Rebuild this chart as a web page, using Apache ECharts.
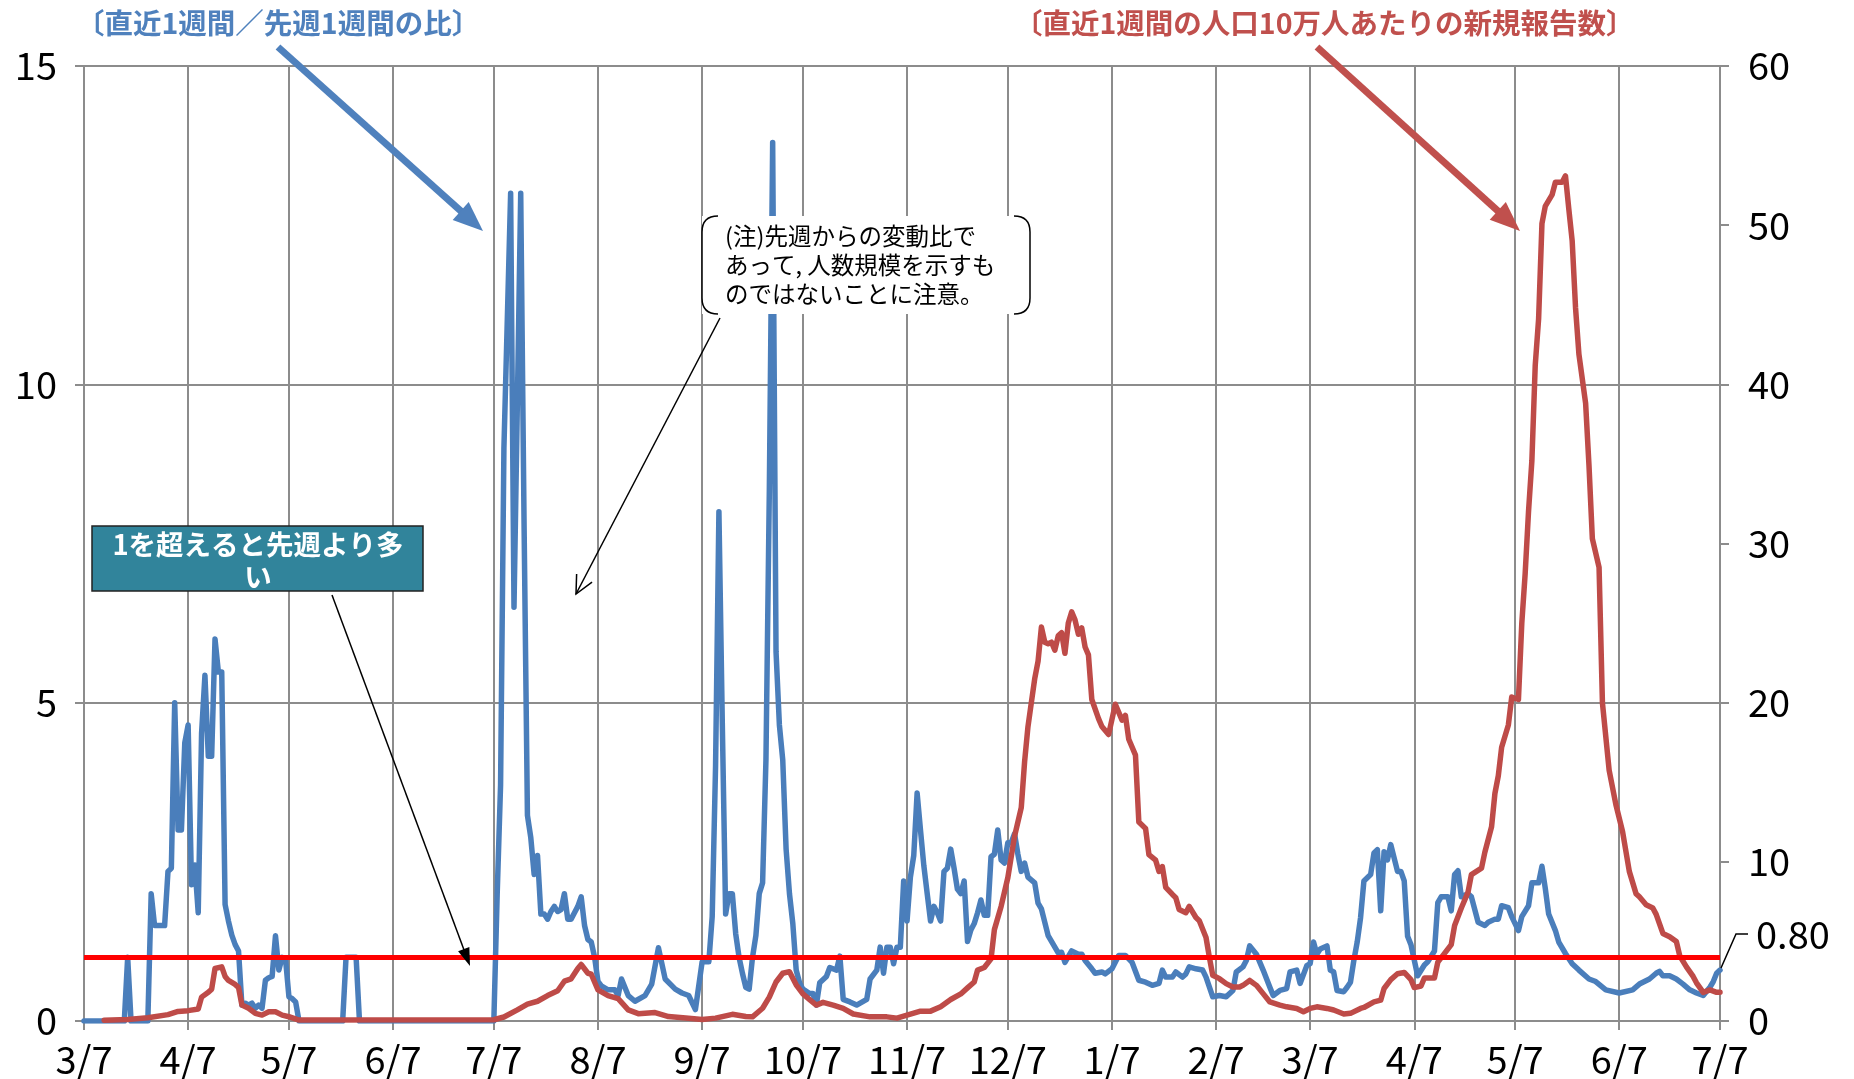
<!DOCTYPE html>
<html><head><meta charset="utf-8">
<script src="https://cdn.jsdelivr.net/npm/echarts@6/dist/echarts.min.js"></script>
<style>html,body{margin:0;padding:0;background:#fff}#c{width:1854px;height:1079px}</style>
</head><body><div id="c"></div>
<script>
// ---- data ----
// 直近1週間／先週1週間の比 (left axis)
const ratio2020 = [
['3/7',0],['3/19',0],['3/20',1.0],['3/21',0],['3/26',0],['3/27',2.0],['3/28',1.5],['3/31',1.5],
['4/1',2.35],['4/2',2.4],['4/3',5.0],['4/4',3.0],['4/5',3.0],['4/6',4.37],['4/7',4.65],['4/8',2.14],
['4/9',2.45],['4/10',1.7],['4/11',4.52],['4/12',5.43],['4/13',4.16],['4/14',4.16],['4/15',6.0],['4/16',5.48],
['4/17',5.48],['4/18',1.83],['4/19',1.57],['4/20',1.35],['4/21',1.2],['4/22',1.1],['4/23',0.25],['4/24',0.28],
['4/25',0.25],['4/26',0.28],['4/27',0.2],['4/28',0.25],['4/29',0.2],['4/30',0.64],['5/1',0.68],['5/2',0.7],
['5/3',1.34],['5/4',0.8],['5/5',1.0],['5/6',0.97],['5/7',0.38],['5/8',0.35],['5/9',0.3],['5/10',0],
['5/23',0],['5/24',1.0],['5/27',1.0],['5/28',0],['7/7',0],
['7/8',2.0],['7/9',3.7],['7/10',9.0],['7/11',11.0],['7/12',13.0],['7/13',6.5],['7/14',9.7],['7/15',13.0],
['7/16',7.8],['7/17',3.23],['7/18',2.88],['7/19',2.3],['7/20',2.6],['7/21',1.68],['7/22',1.68],['7/23',1.6],
['7/24',1.72],['7/25',1.8],['7/26',1.72],['7/27',1.75],['7/28',2.0],['7/29',1.6],['7/30',1.6],['7/31',1.7],
['8/1',1.8],['8/2',1.95],['8/3',1.5],['8/4',1.28],['8/5',1.24],['8/6',1.0],['8/7',0.62],['8/8',0.55],
['8/10',0.49],['8/12',0.49],['8/13',0.4],['8/14',0.66],['8/16',0.4],['8/18',0.31],['8/21',0.4],['8/23',0.58],
['8/25',1.15],['8/27',0.66],['8/30',0.5],['9/1',0.44],['9/3',0.4],['9/5',0.18],['9/7',0.93],['9/9',0.93],
['9/10',1.64],['9/11',4.0],['9/12',8.0],['9/13',4.7],['9/14',1.68],['9/15',2.0],['9/16',2.0],['9/17',1.37],
['9/18',1.0],['9/19',0.75],['9/20',0.53],['9/21',0.5],['9/22',1.0],['9/23',1.34],['9/24',2.0],['9/25',2.17],
['9/26',4.1],['9/27',8.3],['9/28',13.8],['9/29',5.8],['9/30',4.65],['10/1',4.1],['10/2',2.7],['10/3',2.0],
['10/4',1.53],['10/5',0.8],['10/6',0.6],['10/7',0.5],['10/9',0.43],['10/10',0.43],['10/11',0.25],['10/12',0.6],
['10/14',0.7],['10/15',0.84],['10/17',0.8],['10/18',1.02],['10/19',0.34],['10/21',0.3],['10/23',0.25],['10/26',0.34],
['10/27',0.66],['10/29',0.8],['10/30',1.16],['10/31',0.75],['11/1',1.16],['11/2',1.16],['11/3',0.9],['11/4',1.16],
['11/5',1.16],['11/6',2.2],['11/7',1.57],['11/8',2.26],['11/9',2.6],['11/10',3.58],['11/11',3.0],['11/12',2.44],
['11/13',2.0],['11/14',1.57],['11/15',1.8],['11/16',1.7],['11/17',1.57],['11/18',2.35],['11/19',2.4],['11/20',2.7],
['11/21',2.4],['11/22',2.07],['11/23',2.0],['11/24',2.2],['11/25',1.25],['11/26',1.43],['11/27',1.53],['11/28',1.7],
['11/29',1.9],['11/30',1.66],['12/1',1.66],['12/2',2.58],['12/3',2.62],['12/4',3.0],['12/5',2.53],['12/6',2.48],
['12/7',2.8],['12/8',2.8],['12/9',2.94],['12/10',2.62],['12/11',2.35],['12/12',2.48],['12/13',2.26],['12/15',2.17],
['12/16',1.85],['12/17',1.76],['12/19',1.34],['12/20',1.25],['12/22',1.07],['12/23',1.08],['12/24',0.92],['12/26',1.1],
['12/28',1.05],['12/29',1.05],['12/30',0.95]
];
const ratio2021 = [
['1/1',0.82],['1/2',0.75],['1/4',0.77],['1/5',0.74],['1/7',0.82],['1/9',1.03],['1/11',1.03],['1/13',0.92],
['1/15',0.64],['1/17',0.61],['1/19',0.56],['1/21',0.59],['1/22',0.8],['1/23',0.69],['1/25',0.69],['1/26',0.77],
['1/28',0.69],['1/29',0.74],['1/30',0.85],['2/1',0.82],['2/3',0.8],['2/4',0.69],['2/6',0.38],['2/8',0.4],
['2/10',0.38],['2/12',0.48],['2/13',0.77],['2/15',0.85],['2/16',0.95],['2/17',1.18],['2/19',1.05],['2/21',0.8],
['2/23',0.53],['2/24',0.4],['2/26',0.48],['2/28',0.51],['3/1',0.77],['3/3',0.8],['3/4',0.59],['3/6',0.87],
['3/7',0.9],['3/8',1.24],['3/9',1.05],['3/10',1.13],['3/12',1.18],['3/13',0.8],['3/14',0.77],['3/15',0.48],
['3/17',0.46],['3/18',0.53],['3/19',0.61],['3/20',0.95],['3/21',1.24],['3/22',1.62],['3/23',2.2],['3/24',2.25],
['3/25',2.3],['3/26',2.64],['3/27',2.69],['3/28',1.73],['3/29',2.66],['3/30',2.53],['3/31',2.77],['4/2',2.35],
['4/3',2.35],['4/4',2.2],['4/5',1.33],['4/6',1.2],['4/8',0.71],['4/10',0.88],['4/11',0.93],['4/13',1.1],
['4/14',1.86],['4/15',1.95],['4/17',1.95],['4/18',1.73],['4/19',2.3],['4/20',2.36],['4/21',1.95],['4/23',2.0],
['4/24',1.95],['4/26',1.55],['4/28',1.5],['4/29',1.55],['5/1',1.6],['5/2',1.6],['5/3',1.81],['5/5',1.78],
['5/6',1.64],['5/8',1.42],['5/9',1.64],['5/11',1.81],['5/12',2.17],['5/14',2.17],['5/15',2.43],['5/16',2.08],
['5/17',1.68],['5/19',1.42],['5/20',1.24],['5/22',1.06],['5/24',0.9],['5/26',0.8],['5/29',0.66],['5/31',0.62],
['6/3',0.49],['6/7',0.44],['6/11',0.49],['6/13',0.58],['6/16',0.66],['6/18',0.75],['6/19',0.78],['6/20',0.71],
['6/22',0.71],['6/24',0.66],['6/26',0.58],['6/28',0.49],['6/30',0.44],['7/2',0.4],['7/4',0.53],['7/5',0.62],
['7/6',0.75],['7/7',0.8]
];
// 直近1週間の人口10万人あたりの新規報告数 (right axis)
const rate2020 = [
['3/13',0.05],['3/20',0.1],['3/26',0.2],['4/1',0.4],['4/4',0.6],['4/7',0.65],['4/10',0.75],['4/11',1.5],
['4/13',1.8],['4/14',2.0],['4/15',3.3],['4/17',3.4],['4/18',2.8],['4/19',2.55],['4/21',2.3],['4/22',2.1],
['4/23',1.0],['4/25',0.8],['4/27',0.48],['4/29',0.37],['5/1',0.58],['5/3',0.58],['5/5',0.37],['5/7',0.27],
['5/10',0.06],['7/7',0.08],['7/10',0.25],['7/14',0.7],['7/17',1.06],['7/20',1.24],['7/23',1.6],['7/26',1.9],
['7/28',2.5],['7/30',2.65],['8/1',3.3],['8/2',3.55],['8/4',3.0],['8/5',2.94],['8/7',1.95],['8/10',1.6],
['8/13',1.4],['8/16',0.7],['8/19',0.46],['8/24',0.53],['8/28',0.28],['9/3',0.18],['9/7',0.1],['9/11',0.18],
['9/16',0.42],['9/20',0.28],['9/22',0.26],['9/25',0.8],['9/27',1.5],['9/29',2.45],['10/1',3.0],['10/3',3.1],
['10/5',2.27],['10/7',1.7],['10/9',1.35],['10/11',1.0],['10/13',1.17],['10/16',1.0],['10/19',0.8],['10/22',0.44],
['10/27',0.26],['11/1',0.26],['11/4',0.18],['11/7',0.37],['11/11',0.62],['11/14',0.62],['11/17',0.9],['11/20',1.35],
['11/23',1.7],['11/25',2.08],['11/27',2.45],['11/28',3.2],['11/30',3.36],['12/2',3.9],['12/3',5.74],['12/5',7.2],
['12/7',9.0],['12/9',11.6],['12/11',13.4],['12/12',16.3],['12/13',18.5],['12/14',20.0],['12/15',21.5],['12/16',22.6],
['12/17',24.75],['12/18',23.8],['12/19',23.7],['12/20',23.8],['12/21',23.3],['12/22',24.2],['12/23',24.4],['12/24',23.1],
['12/25',25.0],['12/26',25.7],['12/27',25.2],['12/28',24.3],['12/29',24.7],['12/30',23.5],['12/31',23.0]
];
const rate2021 = [
['1/1',20.2],['1/3',19.0],['1/4',18.5],['1/6',18.0],['1/8',19.9],['1/10',18.9],['1/11',19.2],['1/12',17.7],
['1/14',16.7],['1/15',12.5],['1/17',12.1],['1/18',10.45],['1/20',10.1],['1/21',9.4],['1/22',9.7],['1/23',8.4],
['1/25',7.95],['1/26',7.75],['1/27',7.0],['1/29',6.8],['1/30',7.2],['2/1',6.5],['2/2',6.3],['2/4',5.25],
['2/5',4.0],['2/6',2.87],['2/8',2.66],['2/10',2.35],['2/12',2.14],['2/14',2.14],['2/15',2.24],['2/17',2.55],
['2/19',2.24],['2/21',1.72],['2/23',1.2],['2/26',1.0],['2/28',0.89],['3/3',0.79],['3/5',0.58],['3/7',0.79],
['3/9',0.89],['3/12',0.79],['3/14',0.69],['3/17',0.44],['3/19',0.48],['3/22',0.79],['3/23',0.85],['3/26',1.2],
['3/28',1.31],['3/29',2.04],['3/31',2.6],['4/2',2.97],['4/4',3.05],['4/6',2.6],['4/7',2.1],['4/9',2.2],
['4/10',2.7],['4/13',2.7],['4/14',3.7],['4/16',4.25],['4/18',4.8],['4/19',6.0],['4/21',7.1],['4/23',8.1],
['4/24',9.2],['4/27',9.6],['4/28',10.6],['4/30',12.2],['5/1',14.3],['5/2',15.4],['5/3',17.2],['5/5',18.6],
['5/6',20.35],['5/8',20.2],['5/9',25.0],['5/10',28.1],['5/11',32.0],['5/12',35.2],['5/13',41.2],['5/14',44.1],
['5/15',50.1],['5/16',51.2],['5/18',51.9],['5/19',52.7],['5/21',52.7],['5/22',53.1],['5/23',51.0],['5/24',49.0],
['5/25',44.8],['5/26',41.9],['5/28',38.8],['5/29',34.9],['5/30',30.3],['6/1',28.5],['6/2',20.0],['6/4',15.75],
['6/6',13.6],['6/8',11.9],['6/10',9.4],['6/12',8.0],['6/13',7.8],['6/15',7.3],['6/17',7.1],['6/18',6.7],
['6/20',5.5],['6/22',5.3],['6/24',5.0],['6/25',4.1],['6/27',3.4],['6/29',2.8],['6/30',2.4],['7/2',1.8],
['7/4',1.95],['7/6',1.8],['7/7',1.8]
];
const threshold = 1;
const yLeftTicks = {min:0, max:15, interval:5};
const yRightTicks = {min:0, max:60, interval:10};
const lastRatioLabel = '0.80';

// ---- helpers ----
const T0 = Date.UTC(2020,2,7), T1 = Date.UTC(2021,6,7), DAY = 86400000;
function idx(year, md){ const [m,d] = md.split('/').map(Number); return Math.round((Date.UTC(year,m-1,d)-T0)/DAY); }
const categories = [];
for (let t=T0; t<=T1; t+=DAY){ const dt=new Date(t); categories.push((dt.getUTCMonth()+1)+'/'+dt.getUTCDate()); }
const toData = (y, arr) => arr.map(([md,v]) => [idx(y,md), v]);
const ratioData = toData(2020, ratio2020).concat(toData(2021, ratio2021));
const rateData = toData(2020, rate2020).concat(toData(2021, rate2021));
const isMonthTick = (i, v) => v.split('/')[1] === '7';

const FONT = '"Noto Sans CJK JP", "Noto Sans", sans-serif';
const GRID = '#8c8c8c';
const BLUE = '#4A7EBB', RED = '#BE4B48';
const AXFS = 38;

const chart = echarts.init(document.getElementById('c'), null, {renderer:'canvas'});
chart.setOption({
  animation:false,
  backgroundColor:'#fff',
  grid:{left:84, right:134, top:66, bottom:52, containLabel:false},
  xAxis:{
    type:'category', data:categories, boundaryGap:false,
    axisLine:{lineStyle:{color:GRID, width:2}},
    axisTick:{show:true, interval:isMonthTick, length:9, lineStyle:{color:GRID, width:2}},
    splitLine:{show:true, interval:isMonthTick, lineStyle:{color:GRID, width:2}},
    axisLabel:{interval:isMonthTick, color:'#000', fontSize:AXFS, fontFamily:FONT, margin:20, showMinLabel:true, showMaxLabel:true}
  },
  yAxis:[
    {type:'value', position:'left', min:yLeftTicks.min, max:yLeftTicks.max, interval:yLeftTicks.interval,
     axisLine:{show:true, lineStyle:{color:GRID, width:2}},
     axisTick:{show:true, length:9, lineStyle:{color:GRID, width:2}},
     splitLine:{show:true, lineStyle:{color:GRID, width:2}},
     axisLabel:{color:'#000', fontSize:AXFS, fontFamily:FONT, margin:27}},
    {type:'value', position:'right', min:yRightTicks.min, max:yRightTicks.max, interval:yRightTicks.interval,
     axisLine:{show:true, lineStyle:{color:GRID, width:2}},
     axisTick:{show:true, length:9, lineStyle:{color:GRID, width:2}},
     splitLine:{show:false},
     axisLabel:{color:'#000', fontSize:AXFS, fontFamily:FONT, margin:28}}
  ],
  series:[
    {type:'line', name:'ratio', xAxisIndex:0, yAxisIndex:0, data:ratioData, symbol:'none', z:3,
     lineStyle:{color:BLUE, width:5.5, join:'round', cap:'round'},
     markLine:{silent:true, symbol:'none', label:{show:false}, data:[{yAxis:threshold}],
               lineStyle:{color:'#FF0000', width:5, type:'solid'}}},
    {type:'line', name:'rate', xAxisIndex:0, yAxisIndex:1, data:rateData, symbol:'none', z:4,
     lineStyle:{color:RED, width:5.5, join:'round', cap:'round'}}
  ]
});

// ---- annotations ----
function arrow(x1,y1,x2,y2,color,w,hl,hw){
  const a=Math.atan2(y2-y1,x2-x1), bx=x2-hl*Math.cos(a), by=y2-hl*Math.sin(a);
  const px=-Math.sin(a)*hw/2, py=Math.cos(a)*hw/2;
  return [
    {type:'line', z:100, shape:{x1:x1,y1:y1,x2:bx+hl*0.2*Math.cos(a),y2:by+hl*0.2*Math.sin(a)}, style:{stroke:color, lineWidth:w}},
    {type:'polygon', z:100, shape:{points:[[x2,y2],[bx+px,by+py],[bx-px,by-py]]}, style:{fill:color}}
  ];
}
function openArrow(x1,y1,x2,y2,color,w,len,ang){
  const a=Math.atan2(y1-y2,x1-x2);
  return [
    {type:'line', z:100, shape:{x1:x1,y1:y1,x2:x2,y2:y2}, style:{stroke:color, lineWidth:w}},
    {type:'polyline', z:100, shape:{points:[[x2+len*Math.cos(a+ang),y2+len*Math.sin(a+ang)],[x2,y2],[x2+len*Math.cos(a-ang),y2+len*Math.sin(a-ang)]]}, style:{stroke:color, lineWidth:w, fill:null}}
  ];
}
function bracket(xEdge, xIn, yTop, yBot, r){
  return [
    {type:'bezierCurve', z:101, shape:{x1:xIn,y1:yTop,x2:xEdge,y2:yTop+r,cpx1:xEdge,cpy1:yTop}, style:{stroke:'#000', lineWidth:1.5, fill:null}},
    {type:'line', z:101, shape:{x1:xEdge,y1:yTop+r,x2:xEdge,y2:yBot-r}, style:{stroke:'#000', lineWidth:1.5}},
    {type:'bezierCurve', z:101, shape:{x1:xEdge,y1:yBot-r,x2:xIn,y2:yBot,cpx1:xEdge,cpy1:yBot}, style:{stroke:'#000', lineWidth:1.5, fill:null}}
  ];
}
const last = ratioData[ratioData.length-1];
const P = chart.convertToPixel({xAxisIndex:0, yAxisIndex:0}, last);
const g = [];
g.push({type:'text', z:100, style:{text:'〔直近1週間／先週1週間の比〕', x:76, y:23, textVerticalAlign:'middle', font:'bold 28.5px '+FONT, fill:'#4F81BD'}});
g.push({type:'text', z:100, style:{text:'〔直近1週間の人口10万人あたりの新規報告数〕', x:1014, y:23, textVerticalAlign:'middle', font:'bold 28.5px '+FONT, fill:'#C0504D'}});
g.push(...arrow(278,47,483,231,'#4F81BD',7,30,24));
g.push(...arrow(1317,47,1520,231,'#C0504D',7,30,24));
// callout
g.push({type:'rect', z:100, shape:{x:702,y:216,width:328,height:98}, style:{fill:'#fff'}});
g.push(...bracket(702, 718, 216, 314, 16));
g.push(...bracket(1030, 1014, 216, 314, 16));
g.push({type:'text', z:101, style:{text:'(注)先週からの変動比で\nあって, 人数規模を示すも\nのではないことに注意。', x:725, y:222, textVerticalAlign:'top', font:'23.5px '+FONT, fill:'#000', lineHeight:29}});
g.push(...openArrow(720,318,576,594,'#000',1.5,20,0.45));
// teal box
g.push({type:'rect', z:100, shape:{x:92,y:526,width:331,height:65}, style:{fill:'#31849B', stroke:'#222', lineWidth:1.5}});
g.push({type:'text', z:101, style:{text:'1を超えると先週より多\nい', x:258, y:529, textAlign:'center', textVerticalAlign:'top', font:'bold 27.5px '+FONT, fill:'#fff', lineHeight:32}});
g.push(...arrow(332,595,470,966,'#000',1.5,18,12));
// last value callout
g.push({type:'polyline', z:100, shape:{points:[[P[0]+1,P[1]-2],[P[0]+16,P[1]-36],[P[0]+28,P[1]-36]]}, style:{stroke:'#000', lineWidth:1.5, fill:null}});
g.push({type:'text', z:100, style:{text:lastRatioLabel, x:P[0]+36, y:P[1]-36, textVerticalAlign:'middle', font:AXFS+'px '+FONT, fill:'#000'}});
chart.setOption({graphic:g});
</script></body></html>
